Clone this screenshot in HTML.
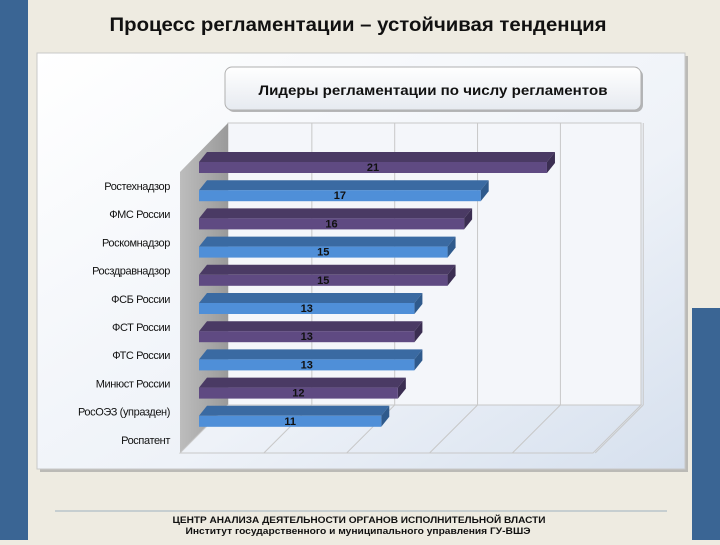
<!DOCTYPE html>
<html><head><meta charset="utf-8"><style>
body{margin:0;width:720px;height:540px;overflow:hidden;background:#eeebe1;font-family:"Liberation Sans",sans-serif}
</style></head><body>
<svg width="720" height="540" xmlns="http://www.w3.org/2000/svg">
<defs>
<linearGradient id="pg" x1="0" y1="0" x2="1" y2="1"><stop offset="0" stop-color="#ffffff"/><stop offset="0.6" stop-color="#eef2f8"/><stop offset="1" stop-color="#d6e0ee"/></linearGradient>
<linearGradient id="tg" x1="0" y1="0" x2="0" y2="1"><stop offset="0" stop-color="#ffffff"/><stop offset="1" stop-color="#e6eaf0"/></linearGradient>
<linearGradient id="sw" x1="0" y1="0" x2="1" y2="0"><stop offset="0" stop-color="#bdbdbd"/><stop offset="1" stop-color="#9a9a9a"/></linearGradient>
</defs>
<rect x="0" y="0" width="28" height="540" fill="#3a6594"/>
<rect x="692" y="308" width="28" height="232" fill="#3a6594"/>
<text x="358" y="31" text-anchor="middle" font-size="19" font-weight="bold" fill="#111" textLength="497" lengthAdjust="spacingAndGlyphs">Процесс регламентации – устойчивая тенденция</text>
<rect x="40" y="56" width="648" height="416" fill="#9a9a9a" opacity="0.6"/>
<rect x="37" y="53" width="648" height="416" fill="url(#pg)" stroke="#c8c8c8"/>
<rect x="227" y="69" width="416" height="43" rx="7" fill="#8a8a8a" opacity="0.6"/>
<rect x="225" y="67" width="416" height="43" rx="7" fill="url(#tg)" stroke="#b0b0b0"/>
<text x="433" y="95" text-anchor="middle" font-size="14" font-weight="bold" fill="#111" textLength="349" lengthAdjust="spacingAndGlyphs">Лидеры регламентации по числу регламентов</text>
<g id="plot"></g>
<line x1="55" y1="511" x2="667" y2="511" stroke="#9fb0c0"/>
<text x="359" y="523" text-anchor="middle" font-size="9.5" font-weight="bold" fill="#111" textLength="373" lengthAdjust="spacingAndGlyphs">ЦЕНТР АНАЛИЗА ДЕЯТЕЛЬНОСТИ ОРГАНОВ ИСПОЛНИТЕЛЬНОЙ ВЛАСТИ</text>
<text x="358" y="534" text-anchor="middle" font-size="9.5" font-weight="bold" fill="#111" textLength="345" lengthAdjust="spacingAndGlyphs">Институт государственного и муниципального управления ГУ-ВШЭ</text>
</svg>
<script>
const categories=["Ростехнадзор","ФМС России","Роскомнадзор","Росздравнадзор","ФСБ России","ФСТ России","ФТС России","Минюст России","РосОЭЗ (упразден)","Роспатент"];
const values=[21,17,16,15,15,13,13,13,12,11];
const gridTicks=[0,5,10,15,20,25];
const NS="http://www.w3.org/2000/svg";
const g=document.getElementById('plot');
function mk(t,a){const e=document.createElementNS(NS,t);for(const k in a)e.setAttribute(k,a[k]);g.appendChild(e);return e;}
const x0=199,ppu=16.57,dx=8,dy=10;
const xs=v=>x0+v*ppu;
const rowTop=i=>162+i*28.2;
const wall=mk('rect',{x:228,y:123,width:413,height:282,fill:'#f4f6fa',stroke:'#c8c8c8'});


const side=mk('polygon',{points:'228,123 228,405 180,453 180,172',fill:'url(#sw)'});


const floor=mk('polygon',{points:'228,405 641,405 593,453 180,453',fill:'none',stroke:'#c8c8c8'});


gridTicks.forEach(t=>{
  const gx=xs(t)+30;
  if(t>0){const l=mk('line',{x1:gx,y1:123,x2:gx,y2:405,stroke:'#c8c8c8'});
  
  
  const f=mk('line',{x1:gx,y1:405,x2:gx-48,y2:453,stroke:'#c8c8c8'});
  
  }
});
values.forEach((v,i)=>{
  const y=rowTop(i),xe=xs(v),purple=i%2===0;
  const h=11;
  const top=mk('polygon',{points:`${x0},${y} ${xe},${y} ${xe+dx},${y-dy} ${x0+dx},${y-dy}`,fill:purple?'#4a3a64':'#3a6aa2'});
  
  
  const sideF=mk('polygon',{points:`${xe},${y} ${xe+dx},${y-dy} ${xe+dx},${y-dy+h} ${xe},${y+h}`,fill:purple?'#3b2e52':'#2f5a8c'});
  
  
  const fr=mk('rect',{x:x0,y:y,width:xe-x0,height:h,fill:purple?'#5f4a82':'#4f8fd8'});
  
  
  const tx=mk('text',{x:(x0+xe)/2,y:y+9,'text-anchor':'middle','font-size':'11','font-weight':'bold',fill:'#111'});
  tx.textContent=v;
  
  
  const cl=mk('text',{x:170,y:190+i*28.2,'text-anchor':'end','font-size':'11',fill:'#111','letter-spacing':'-0.4'});
  cl.textContent=categories[i];
  
  
});
</script>
</body></html>
